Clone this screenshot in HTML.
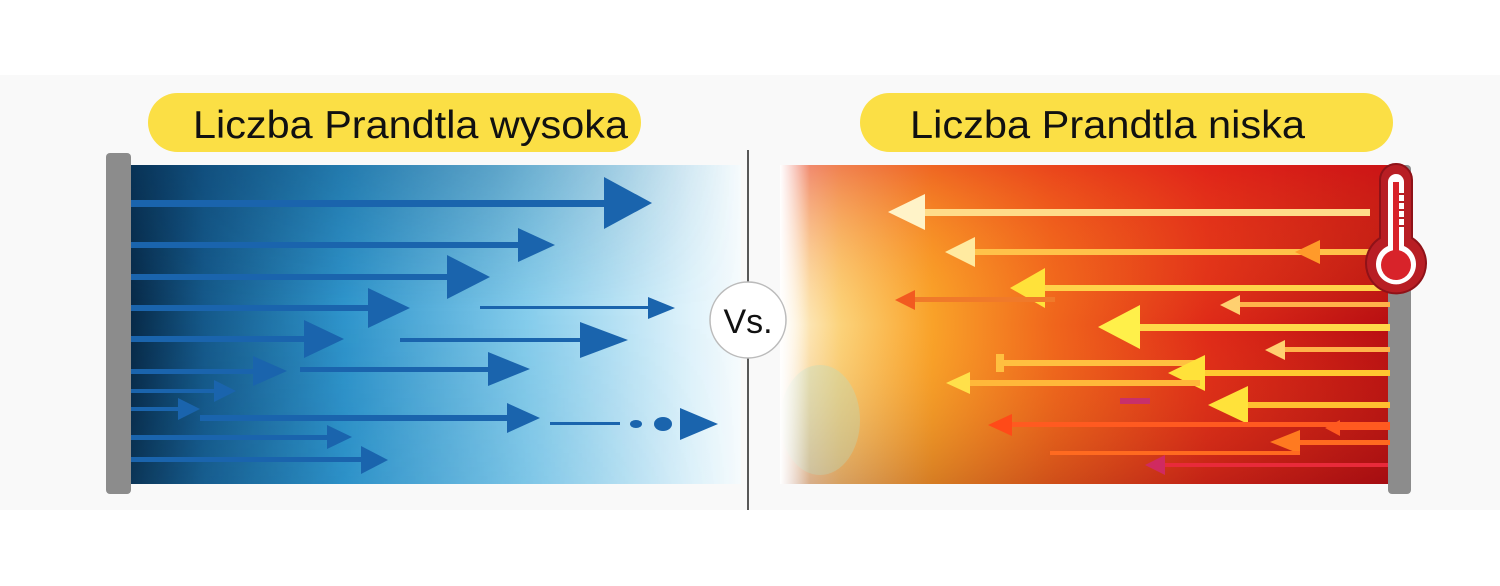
<!DOCTYPE html>
<html><head><meta charset="utf-8"><style>
html,body{margin:0;padding:0;background:#fff;}
svg{display:block;}
text{font-family:"Liberation Sans",sans-serif;}
</style></head><body>
<svg width="1500" height="586" viewBox="0 0 1500 586" xmlns="http://www.w3.org/2000/svg">
<defs>
<linearGradient id="bl" x1="0" x2="1" y1="0" y2="0">
<stop offset="0" stop-color="#082a48"/><stop offset="0.12" stop-color="#15598a"/>
<stop offset="0.35" stop-color="#2f95cc"/><stop offset="0.65" stop-color="#86cdec"/>
<stop offset="0.92" stop-color="#e0f3fb"/><stop offset="1" stop-color="#f6fbfd"/>
</linearGradient>
<linearGradient id="bv" x1="0" x2="0" y1="0" y2="1">
<stop offset="0" stop-color="#0a3f6a" stop-opacity="0.4"/><stop offset="0.45" stop-color="#0a3f6a" stop-opacity="0"/><stop offset="1" stop-color="#1f78b0" stop-opacity="0.15"/>
</linearGradient>
<linearGradient id="bvx" x1="0" x2="1"><stop offset="0" stop-color="#fff" stop-opacity="1"/><stop offset="0.6" stop-color="#fff" stop-opacity="0.6"/><stop offset="1" stop-color="#fff" stop-opacity="0"/></linearGradient>
<mask id="mk"><rect x="131" y="165" width="610" height="319" fill="url(#bvx)"/></mask>
<linearGradient id="rd" x1="0" x2="1" y1="0" y2="0">
<stop offset="0" stop-color="#fdf6e8"/><stop offset="0.1" stop-color="#fbd27a"/>
<stop offset="0.25" stop-color="#f9a229"/><stop offset="0.45" stop-color="#f0651c"/>
<stop offset="0.7" stop-color="#df2a18"/><stop offset="1" stop-color="#b80d12"/>
</linearGradient>
<linearGradient id="rv" x1="0" x2="0" y1="0" y2="1">
<stop offset="0" stop-color="#e21c1a" stop-opacity="0.45"/><stop offset="0.5" stop-color="#ff9a20" stop-opacity="0"/><stop offset="1" stop-color="#6a0a10" stop-opacity="0.25"/>
</linearGradient>
<linearGradient id="fadeR" x1="0" x2="1"><stop offset="0" stop-color="#fff" stop-opacity="1"/><stop offset="1" stop-color="#fff" stop-opacity="0"/></linearGradient>
</defs>
<rect x="0" y="75" width="1500" height="435" fill="#f9f9f9"/>
<!-- left panel -->
<rect x="131" y="165" width="610" height="319" fill="url(#bl)"/>
<rect x="131" y="165" width="610" height="319" fill="url(#bv)" mask="url(#mk)"/>
<rect x="106" y="153" width="25" height="341" rx="4" fill="#8c8c8c"/>
<g fill="#1a64ad" stroke="none">
<rect x="131" y="200" width="480" height="7"/><polygon points="604,177 652,203 604,229"/>
<rect x="131" y="242" width="390" height="6"/><polygon points="518,228 555,245 518,262"/>
<rect x="131" y="274" width="320" height="6"/><polygon points="447,255 490,277 447,299"/>
<rect x="131" y="305" width="240" height="6"/><polygon points="368,288 410,308 368,328"/>
<rect x="131" y="336" width="176" height="6"/><polygon points="304,320 344,339 304,358"/>
<rect x="131" y="369" width="125" height="5"/><polygon points="253,356 287,371 253,386"/>
<rect x="131" y="389" width="85" height="4"/><polygon points="214,380 236,391 214,402"/>
<rect x="131" y="407" width="50" height="4"/><polygon points="178,398 200,409 178,420"/>
<rect x="131" y="435" width="200" height="5"/><polygon points="327,425 352,437 327,449"/>
<rect x="131" y="457" width="233" height="5"/><polygon points="361,446 388,460 361,474"/>
<rect x="480" y="306" width="170" height="3"/><polygon points="648,297 675,308 648,319"/>
<rect x="400" y="338" width="185" height="4"/><polygon points="580,322 628,340 580,358"/>
<rect x="300" y="367" width="195" height="5"/><polygon points="488,352 530,369 488,386"/>
<rect x="200" y="415" width="312" height="6"/><polygon points="507,403 540,418 507,433"/>
<polygon points="680,408 718,424 680,440"/>
<ellipse cx="663" cy="424" rx="9" ry="7"/><ellipse cx="636" cy="424" rx="6" ry="4"/><rect x="550" y="422" width="70" height="3"/>
</g>
<!-- right panel -->
<rect x="780" y="165" width="610" height="319" fill="url(#rd)"/>
<rect x="780" y="165" width="610" height="319" fill="url(#rv)"/>
<ellipse cx="820" cy="420" rx="40" ry="55" fill="#b8dcc0" opacity="0.35"/>
<rect x="780" y="165" width="30" height="319" fill="url(#fadeR)"/>
<rect x="1388" y="165" width="23" height="329" rx="4" fill="#8c8c8c"/>
<g>
<rect x="920" y="209" width="450" height="7" fill="#ffdc8a"/><polygon points="925,194 888,212 925,230" fill="#fff3c8"/>
<rect x="960" y="249" width="410" height="6" fill="#ffc24a"/><polygon points="975,237 945,252 975,267" fill="#ffeaa0"/>
<polygon points="1320,240 1295,252 1320,264" fill="#ff9a2a"/>
<rect x="1030" y="285" width="360" height="6" fill="#ffd24a"/><polygon points="1045,268 1010,288 1045,308" fill="#ffe23a"/>
<rect x="905" y="297" width="150" height="5" fill="#f07a2a"/><polygon points="915,290 895,300 915,310" fill="#f25a20"/>
<rect x="1230" y="302" width="160" height="5" fill="#ffb24a"/><polygon points="1240,295 1220,305 1240,315" fill="#ffd070"/>
<rect x="1120" y="324" width="270" height="7" fill="#ffd84a"/><polygon points="1140,305 1098,327 1140,349" fill="#fff04a"/>
<rect x="1275" y="347" width="115" height="5" fill="#ffb24a"/><polygon points="1285,340 1265,350 1285,360" fill="#ffd070"/>
<rect x="1000" y="360" width="200" height="6" fill="#ffc040"/><rect x="996" y="354" width="8" height="18" fill="#ffc040"/>
<rect x="1190" y="370" width="200" height="6" fill="#ffc830"/><polygon points="1205,355 1168,373 1205,391" fill="#ffe23a"/>
<rect x="960" y="380" width="240" height="6" fill="#ffb83a"/><polygon points="970,372 946,383 970,394" fill="#ffe04a"/>
<rect x="1230" y="402" width="160" height="6" fill="#ffc030"/><polygon points="1248,386 1208,405 1248,424" fill="#ffe23a"/>
<rect x="1000" y="422" width="390" height="5" fill="#ff5a20"/><polygon points="1012,414 988,425 1012,436" fill="#ff4a18"/>
<rect x="1340" y="426" width="50" height="4" fill="#ff5a20"/><polygon points="1340,420 1325,428 1340,436" fill="#ff5a20"/>
<rect x="1290" y="440" width="100" height="5" fill="#ff6a20"/><polygon points="1300,430 1270,442 1300,454" fill="#ff7a20"/>
<rect x="1050" y="451" width="250" height="4" fill="#ff6a20"/>
<rect x="1160" y="463" width="228" height="4" fill="#e82a3a"/><polygon points="1165,455 1145,465 1165,475" fill="#d02a60"/>
<rect x="1120" y="398" width="30" height="6" fill="#c8306a"/>
</g>
<!-- divider and vs -->
<line x1="748" y1="150" x2="748" y2="510" stroke="#222" stroke-width="1.5"/>
<circle cx="748" cy="320" r="38" fill="#fff" stroke="#bbb" stroke-width="1.5"/>
<text x="748" y="333" font-size="34" text-anchor="middle" fill="#111">Vs.</text>
<!-- thermometer -->
<g>
<path d="M1380,180 a16,16 0 0 1 32,0 v58 a30,30 0 1 1 -32,0 z" fill="#b81e24" stroke="#8f1218" stroke-width="2"/>
<path d="M1388,182 a8,8 0 0 1 16,0 v64 a20,20 0 1 1 -16,0 z" fill="#fff"/>
<circle cx="1396" cy="265" r="15" fill="#d8232a"/>
<rect x="1393" y="182" width="6" height="80" fill="#d8232a"/>
<g stroke="#b81e24" stroke-width="2"><line x1="1399" y1="194" x2="1404" y2="194"/><line x1="1399" y1="202" x2="1404" y2="202"/><line x1="1399" y1="210" x2="1404" y2="210"/><line x1="1399" y1="218" x2="1404" y2="218"/><line x1="1399" y1="226" x2="1404" y2="226"/></g>
</g>
<!-- pills -->
<rect x="148" y="93" width="493" height="59" rx="29.5" fill="#fbdf45"/>
<text x="193" y="138" font-size="39" textLength="435" lengthAdjust="spacingAndGlyphs" fill="#111">Liczba Prandtla wysoka</text>
<rect x="860" y="93" width="533" height="59" rx="29.5" fill="#fbdf45"/>
<text x="910" y="138" font-size="39" textLength="395" lengthAdjust="spacingAndGlyphs" fill="#111">Liczba Prandtla niska</text>
</svg>
</body></html>
